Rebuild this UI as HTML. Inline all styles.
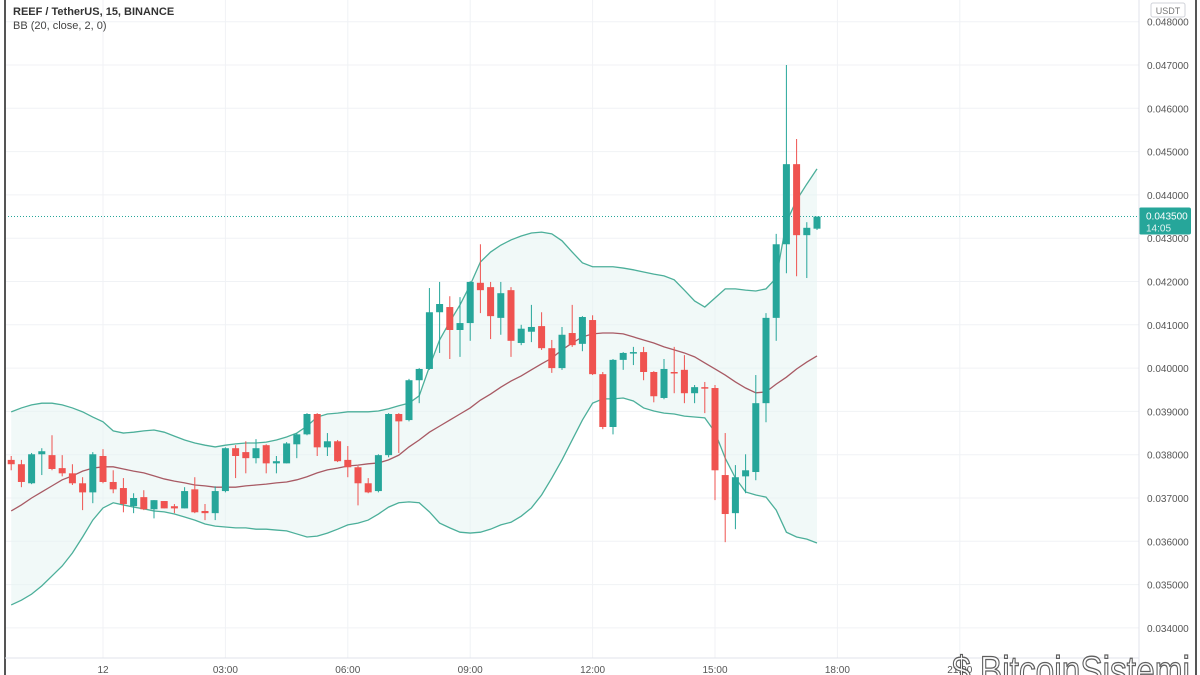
<!DOCTYPE html>
<html><head><meta charset="utf-8"><style>
body{margin:0;background:#fff;width:1200px;height:675px;overflow:hidden;font-family:"Liberation Sans",sans-serif}
svg{display:block}
</style></head><body>
<svg id="chart" width="1200" height="675" viewBox="0 0 1200 675" xmlns="http://www.w3.org/2000/svg">
<rect x="0" y="0" width="1200" height="675" fill="#fff"/>
<g id="grid"></g>
<g id="bands"></g>
<g id="candles"></g>
<g id="yaxis"></g>
<g id="xaxis"></g>
<line x1="5" y1="0" x2="5" y2="675" stroke="#555" stroke-width="2"/>
<line x1="1196" y1="0" x2="1196" y2="675" stroke="#555" stroke-width="2"/>
<line x1="1139" y1="0" x2="1139" y2="675" stroke="#e0e3eb"/>
<line x1="5" y1="658" x2="1139" y2="658" stroke="#e0e3eb"/>
<text x="13" y="15" font-size="11" font-weight="bold" fill="#333">REEF / TetherUS, 15, BINANCE</text>
<text x="13" y="29" font-size="11" fill="#444">BB (20, close, 2, 0)</text>
<rect x="1151" y="3" width="34" height="14" rx="2" fill="#fff" stroke="#d0d3da"/>
<text x="1168" y="14" font-size="9" fill="#777" text-anchor="middle">USDT</text>
<g opacity="0.85">
<text x="952" y="684" font-size="40" textLength="238" lengthAdjust="spacingAndGlyphs" fill="#fff" stroke="#444" stroke-width="1.3" font-family="'Liberation Sans',sans-serif">$ BitcoinSistemi</text>
</g>
</svg>
<script>
const opens=[37.88,37.78,37.34,38.01,37.99,37.69,37.57,37.34,37.13,37.97,37.37,37.23,36.81,37.02,36.74,36.93,36.81,36.76,37.20,36.70,36.65,37.16,38.15,38.06,37.92,38.22,37.80,37.80,38.24,38.47,38.94,38.17,38.31,37.88,37.71,37.34,37.16,37.99,38.94,38.80,39.72,39.98,41.29,41.41,40.88,41.04,41.97,41.87,41.16,41.80,40.58,40.84,40.97,40.46,40.00,40.81,40.56,41.11,39.86,38.64,40.19,40.35,40.37,39.91,39.31,39.91,39.96,39.42,39.56,39.54,37.53,36.65,37.50,37.60,39.19,41.16,42.86,44.71,43.07,43.22];
const closes=[37.78,37.37,38.01,38.08,37.67,37.57,37.34,37.13,38.01,37.37,37.20,36.86,37.00,36.74,36.95,36.76,36.76,37.16,36.67,36.65,37.16,38.15,37.97,37.92,38.15,37.80,37.85,38.26,38.47,38.94,38.17,38.31,37.85,37.71,37.34,37.13,37.99,38.94,38.77,39.72,39.98,41.29,41.48,40.88,41.04,41.99,41.80,41.20,41.73,40.63,40.91,40.95,40.46,40.00,40.77,40.53,41.18,39.86,38.64,40.19,40.35,40.37,39.91,39.35,39.98,39.88,39.42,39.56,39.54,37.64,36.63,37.48,37.64,39.19,41.16,42.86,44.71,43.07,43.24,43.50];
const highs=[37.97,37.88,38.04,38.15,38.45,37.99,37.78,37.48,38.06,38.13,37.64,37.46,37.11,37.18,36.95,36.93,36.86,37.25,37.48,36.86,37.27,38.17,38.22,38.31,38.36,38.24,37.97,38.29,38.50,38.96,38.96,38.50,38.34,38.20,37.74,37.46,38.01,38.96,38.96,39.75,40.00,41.85,41.99,41.66,41.64,42.01,42.86,41.99,41.99,41.87,41.00,41.46,41.29,40.65,40.95,41.46,41.20,41.22,39.91,40.21,40.37,40.49,40.49,39.93,40.21,40.49,40.30,39.61,39.68,39.61,38.50,37.76,38.01,39.84,41.27,43.10,47.00,45.29,43.37,43.50];
const lows=[37.64,37.25,37.32,37.53,37.64,37.50,37.30,36.72,36.88,37.34,37.11,36.67,36.65,36.72,36.53,36.76,36.65,36.76,36.65,36.49,36.49,37.13,37.46,37.57,37.80,37.57,37.57,37.80,37.92,38.45,37.97,37.97,37.83,37.48,36.83,37.11,37.13,37.94,38.04,38.77,39.19,39.96,40.35,40.21,40.26,40.63,41.27,40.67,40.77,40.26,40.53,40.60,40.42,39.89,39.96,40.49,40.39,39.84,38.59,38.47,39.96,40.07,39.72,39.21,39.28,39.42,39.19,39.19,38.96,36.95,35.98,36.28,37.11,37.41,38.75,40.63,42.19,42.12,42.08,43.19];
const upperBand=[38.99,39.08,39.15,39.19,39.19,39.15,39.08,38.99,38.87,38.76,38.55,38.50,38.52,38.55,38.57,38.52,38.43,38.34,38.27,38.22,38.18,38.22,38.25,38.27,38.27,38.29,38.34,38.41,38.50,38.66,38.87,38.94,38.96,38.99,38.99,38.99,39.01,39.06,39.13,39.19,39.36,40.03,40.65,41.07,41.46,41.92,42.45,42.68,42.84,42.96,43.05,43.12,43.14,43.10,42.94,42.68,42.43,42.34,42.34,42.34,42.31,42.27,42.22,42.17,42.13,42.04,41.80,41.55,41.41,41.62,41.83,41.83,41.80,41.78,41.83,42.08,43.37,43.88,44.25,44.60];
const middleBand=[36.70,36.84,37.00,37.14,37.28,37.42,37.51,37.62,37.69,37.72,37.72,37.67,37.62,37.58,37.51,37.44,37.39,37.35,37.30,37.28,37.25,37.25,37.25,37.28,37.30,37.32,37.35,37.37,37.42,37.49,37.58,37.65,37.69,37.74,37.76,37.79,37.81,37.88,37.99,38.18,38.34,38.52,38.66,38.80,38.94,39.08,39.26,39.40,39.56,39.70,39.82,39.96,40.10,40.23,40.42,40.58,40.72,40.79,40.81,40.81,40.79,40.72,40.65,40.58,40.49,40.42,40.35,40.26,40.12,39.98,39.84,39.68,39.54,39.43,39.45,39.63,39.79,39.98,40.14,40.28];
const lowerBand=[34.53,34.64,34.78,34.97,35.20,35.43,35.73,36.10,36.49,36.77,36.89,36.84,36.79,36.75,36.70,36.68,36.63,36.56,36.49,36.40,36.35,36.33,36.31,36.31,36.28,36.28,36.26,36.24,36.17,36.10,36.12,36.19,36.28,36.38,36.42,36.49,36.63,36.79,36.89,36.91,36.89,36.68,36.42,36.31,36.21,36.19,36.21,36.28,36.38,36.44,36.58,36.77,37.07,37.46,37.88,38.34,38.80,39.19,39.29,39.29,39.31,39.24,39.08,39.01,38.96,38.94,38.89,38.87,38.85,38.52,37.92,37.46,37.14,37.07,37.02,36.72,36.21,36.10,36.05,35.96];
const priceTicks=[34,35,36,37,38,39,40,41,42,43,44,45,46,47,48];
const timeLabels=["12","03:00","06:00","09:00","12:00","15:00","18:00","21:00"];
const timeLabelIndex=[9,21,33,45,57,69,81,93];
const lastPrice=43.5;

const NS="http://www.w3.org/2000/svg";
const scale=0.001;
function y(v){return 65+(47-v)*43.3;}
function x(i){return 11.2+i*10.2;}
function mk(tag,attrs,parent){const e=document.createElementNS(NS,tag);for(const k in attrs)e.setAttribute(k,attrs[k]);parent.appendChild(e);return e;}
const grid=document.getElementById('grid'),yax=document.getElementById('yaxis'),xax=document.getElementById('xaxis');
priceTicks.forEach(t=>{
  const l=mk('line',{x1:5,x2:1139,y1:y(t),y2:y(t),stroke:'#f0f2f5'},grid);
  
  
  const tx=mk('text',{x:1147,y:y(t)+4,'font-size':10,fill:'#555'},yax);
  tx.textContent=(t*scale).toFixed(6);
  
  
});
timeLabels.forEach((lab,k)=>{
  const xx=x(timeLabelIndex[k]);
  const l=mk('line',{x1:xx,x2:xx,y1:0,y2:658,stroke:'#f0f2f5'},grid);
  
  
  const tx=mk('text',{x:xx,y:673,'font-size':10,fill:'#555','text-anchor':'middle'},xax);
  tx.textContent=lab;
  
  
});
const bands=document.getElementById('bands');
let fillD='M'+upperBand.map((v,i)=>x(i)+','+y(v)).join('L')+'L'+lowerBand.map((v,i)=>x(i)+','+y(v)).reverse().join('L')+'Z';
const f=mk('path',{d:fillD,fill:'#e6f4f2','fill-opacity':0.55},bands);


function line(arr,color,name){const p=mk('path',{d:'M'+arr.map((v,i)=>x(i)+','+y(v)).join('L'),fill:'none',stroke:color,'stroke-width':1.3},bands);

}
line(upperBand,'#4caf9a','upper-band');
line(lowerBand,'#4caf9a','lower-band');
line(middleBand,'#a85a64','basis-line');
const pl=mk('line',{x1:5,x2:1139,y1:y(lastPrice),y2:y(lastPrice),stroke:'#26a69a','stroke-dasharray':'1,2','stroke-width':1},bands);


const cg=document.getElementById('candles');
opens.forEach((o,i)=>{
  const c=closes[i],up=c>=o,col=up?'#26a69a':'#ef5350';
  const g=mk('g',{},cg);
  
  
  mk('line',{x1:x(i),x2:x(i),y1:y(highs[i]),y2:y(lows[i]),stroke:col,'stroke-width':1},g);
  const top=y(Math.max(o,c)),h=Math.max(1.5,Math.abs(y(o)-y(c)));
  mk('rect',{x:x(i)-3.5,y:top,width:7,height:h,fill:col},g);
});
const lb=mk('rect',{x:1139,y:y(lastPrice)-9,width:52,height:27,rx:2,fill:'#26a69a'},yax);


const lt=mk('text',{x:1146,y:y(lastPrice)+3,'font-size':10,fill:'#fff'},yax);
lt.textContent=(lastPrice*scale).toFixed(6);


const lt2=mk('text',{x:1146,y:y(lastPrice)+15,'font-size':10,fill:'#e0f2f1'},yax);
lt2.textContent='14:05';


</script>
</body></html>
